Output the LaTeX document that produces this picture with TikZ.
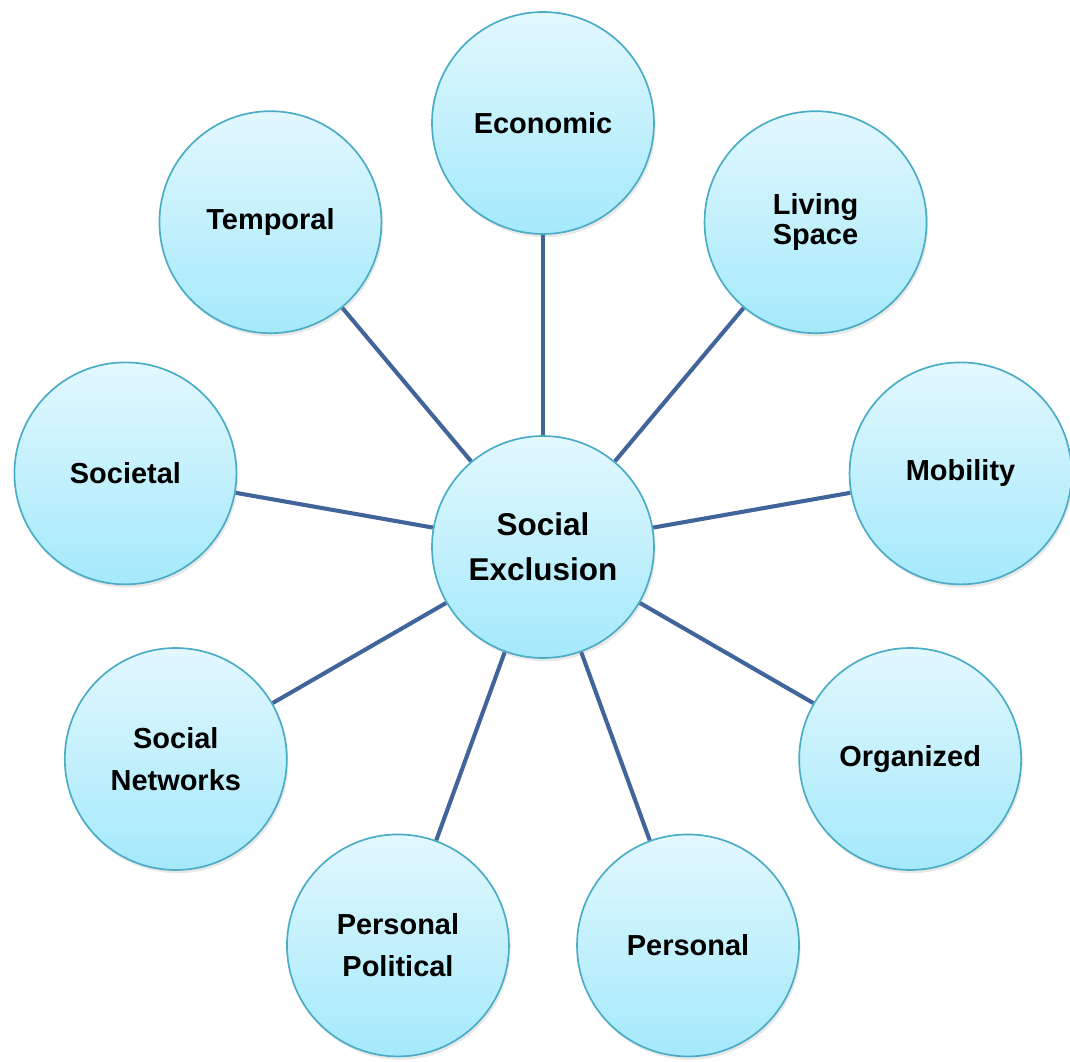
\documentclass[tikz,border=0pt]{standalone}
\usepackage{fontspec}
\setmainfont{Liberation Sans}
\usepackage{tikz}
\usetikzlibrary{shapes,backgrounds,shadows}
\definecolor{circtop}{HTML}{E2F8FE}
\definecolor{circbot}{HTML}{A4E9FB}
\definecolor{circedge}{HTML}{4BACC6}
\definecolor{spoke}{HTML}{41659A}
\tikzset{
  circOut/.style={ draw=circedge, line width=1.2pt, circle, top color=circtop, bottom color=circbot,
    minimum size=5.55cm, inner sep=0pt, align=center, font=\fontsize{20.6}{24}\selectfont\bfseries,
    drop shadow={opacity=0.18, shadow xshift=0.04cm, shadow yshift=-0.08cm} }
}
\tikzset{
  circMain/.style={ circOut, font=\fontsize{22.4}{27}\selectfont\bfseries }
}
\tikzset{
  spk/.style={ draw=spoke, line width=2.9pt }
}

\begin{document}
\begin{tikzpicture}[y=1cm, x=1cm]
      \useasboundingbox (-13.575, -12.875) rectangle (13.175, 13.675);
      \node[circMain] (se) at (0, 0) {Social\\[5pt]Exclusion};

      \node[circOut] (econ) at (90:10.6) {Economic};
      \node[circOut] (living) at (50:10.6) {Living\\[-3pt]Space};
      \node[circOut] (mob) at (10:10.6) {Mobility};
      \node[circOut] (org) at (-30:10.6) {Organized};
      \node[circOut] (pers) at (-70:10.6) {Personal};
      \node[circOut] (perspol) at (-110:10.6) {Personal\\[6pt]Political};
      \node[circOut] (socnet) at (-150:10.6) {Social\\[6pt]Networks};
      \node[circOut] (soc) at (170:10.6) {Societal};
      \node[circOut] (temp) at (130:10.6) {Temporal};

      \begin{scope}[on background layer]
        \draw[spk] (se) -- (econ);
        \draw[spk] (se) -- (living);
        \draw[spk] (se) -- (mob);
        \draw[spk] (se) -- (org);
        \draw[spk] (se) -- (pers);
        \draw[spk] (se) -- (perspol);
        \draw[spk] (se) -- (socnet);
        \draw[spk] (se) -- (soc);
        \draw[spk] (se) -- (temp);
      \end{scope}
    \end{tikzpicture}
\end{document}
